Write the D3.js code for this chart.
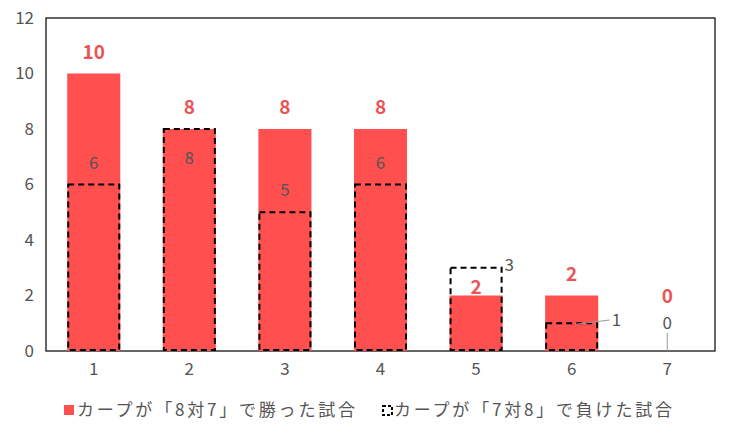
<!DOCTYPE html><html><head><meta charset="utf-8"><script src="https://cdn.jsdelivr.net/npm/d3@7/dist/d3.min.js"></script>
<style>body{margin:0;background:#fff}text{font-family:"Noto Sans CJK JP",sans-serif}</style></head><body><svg id="c" width="734" height="434"></svg>
<script>
const categories=["1","2","3","4","5","6","7"];
const wins=[10,8,8,8,2,2,0];
const losses=[6,8,5,6,3,1,0];
const yTicks=[0,2,4,6,8,10,12];
const svg=d3.select("#c");
const L=46,R=715,T=18,B=351;
const x=d3.scaleBand().domain(categories).range([L,R]).paddingInner(0.445).paddingOuter(0.222);
const y=d3.scaleLinear().domain([0,12]).range([B,T]);
const red="#ff4f4f";
svg.append("rect").attr("x",L).attr("y",T).attr("width",R-L).attr("height",B-T).attr("fill","none").attr("stroke","#000").attr("stroke-width",1.2);
const ya=svg.append("g").attr("transform",`translate(${L},0)`).call(d3.axisLeft(y).tickValues(yTicks).tickSize(0).tickPadding(12));
ya.select(".domain").remove();ya.selectAll("text").attr("font-size",17).attr("fill","#555");
const xa=svg.append("g").attr("transform",`translate(0,${B})`).call(d3.axisBottom(x).tickSize(0).tickPadding(12));
xa.select(".domain").remove();xa.selectAll("text").attr("font-size",17).attr("fill","#555");
svg.selectAll(".w").data(wins).join("rect").attr("x",(d,i)=>x(categories[i])).attr("width",x.bandwidth()).attr("y",d=>y(d)).attr("height",d=>B-y(d)).attr("fill",red);
svg.selectAll(".l").data(losses).join("rect").attr("x",(d,i)=>x(categories[i])+1).attr("width",x.bandwidth()-2).attr("y",d=>y(d)).attr("height",d=>B-y(d)-1).attr("fill","none").attr("stroke",d=>d>0?"#000":"none").attr("stroke-width",2).attr("stroke-dasharray","6,4");
svg.selectAll(".wl").data(wins).join("text").attr("x",(d,i)=>x(categories[i])+x.bandwidth()/2).attr("y",(d,i)=>i==4?y(losses[i])+26:i==6?303:y(d)-15).attr("text-anchor","middle").attr("font-size",19).attr("font-weight","bold").attr("fill","#e85555").text(d=>d);
const cx=i=>x(categories[i])+x.bandwidth()/2;
losses.forEach((d,i)=>{
  let tx=cx(i),ty=y(d)-22,anchor="middle";
  if(i==1){ty=y(d)+29;}
  if(i==4){tx=x(categories[i])+x.bandwidth()+2;ty=y(d)-3;anchor="start";}
  if(i==5){tx=cx(i)+40;ty=320;anchor="start";
    svg.append("line").attr("x1",cx(i)+4).attr("y1",y(d)+1).attr("x2",cx(i)+38).attr("y2",320).attr("stroke","#999");}
  if(i==6){ty=323;svg.append("line").attr("x1",cx(i)).attr("y1",333).attr("x2",cx(i)).attr("y2",B).attr("stroke","#999");}
  svg.append("text").attr("x",tx).attr("y",ty+6).attr("text-anchor",anchor).attr("font-size",17).attr("fill","#555").text(d);
});
const lg=svg.append("g").attr("transform","translate(0,410)");
lg.append("rect").attr("x",64).attr("y",-5).attr("width",10).attr("height",10).attr("fill",red);
lg.append("text").attr("x",77).attr("y",6).attr("font-size",17).attr("textLength",278).attr("fill","#555").text("カープが「8対7」で勝った試合");
lg.append("rect").attr("x",383).attr("y",-4).attr("width",9).attr("height",9).attr("fill","none").attr("stroke","#000").attr("stroke-width",2).attr("stroke-dasharray","3,2");
lg.append("text").attr("x",394).attr("y",6).attr("font-size",17).attr("textLength",278).attr("fill","#555").text("カープが「7対8」で負けた試合");
</script></body></html>
